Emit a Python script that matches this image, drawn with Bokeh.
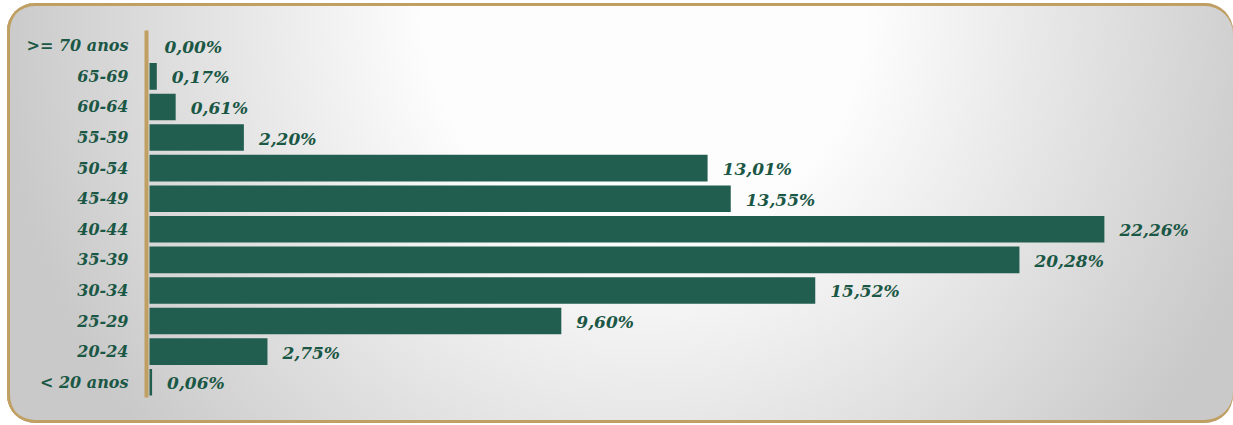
from bokeh.plotting import figure
from bokeh.models import ColumnDataSource, FactorRange, Range1d
from bokeh.core.properties import value
from bokeh.embed import file_html
from bokeh.resources import INLINE

# ---- data ----
categories = ["< 20 anos", "20-24", "25-29", "30-34", "35-39", "40-44",
              "45-49", "50-54", "55-59", "60-64", "65-69", ">= 70 anos"]
values = [0.06, 2.75, 9.60, 15.52, 20.28, 22.26, 13.55, 13.01, 2.20, 0.61, 0.17, 0.00]
labels = ["0,06%", "2,75%", "9,60%", "15,52%", "20,28%", "22,26%",
          "13,55%", "13,01%", "2,20%", "0,61%", "0,17%", "0,00%"]

W, H = 1226, 420
GREEN = "#215e4f"
TEXT = "#1b5745"
GOLD = "#c0a062"
FONT = "DejaVu Serif"

p = figure(width=W, height=H, output_backend="svg", toolbar_location=None,
           y_range=FactorRange(factors=categories, range_padding=0),
           x_range=Range1d(-0.07, 25.27),
           min_border_left=139, min_border_right=0, min_border_top=27,
           min_border_bottom=26, x_axis_location=None)

p.background_fill_alpha = 0
p.border_fill_alpha = 0
p.outline_line_color = None
p.grid.visible = False

# rounded panel with soft gray/white gradient and gold edge (CSS on the figure element)
p.styles = {
    "margin-left": "7px",
    "margin-top": "3px",
    "border-radius": "28px",
    "background": "radial-gradient(650px 680px at 52% 0%, #fdfdfd 34%, #c9c9c9 100%)",
    "box-shadow": "inset 3px 0 0 0 %s, inset 0 3px 0 0 %s, inset 0 -3px 0 0 %s" % (GOLD, GOLD, GOLD),
}

# ---- bars ----
src = ColumnDataSource(dict(cat=categories, val=values, lab=labels))
p.hbar(y="cat", right="val", left=0, height=0.87, source=src,
       fill_color=GREEN, line_color=None)

p.text(x="val", y="cat", text="lab", source=src, x_offset=15, y_offset=1,
       text_font=value(FONT), text_baseline="middle",
       text_align="left", text_color=TEXT, text_font_size="17px",
       text_font_style="bold italic")

# ---- axis ----
ax = p.yaxis[0]
ax.axis_line_color = GOLD
ax.axis_line_width = 4
ax.major_tick_line_color = None
ax.minor_tick_line_color = None
ax.major_tick_out = 0
ax.major_tick_in = 0
ax.major_label_standoff = 18
ax.major_label_text_font = FONT
ax.major_label_text_font_style = "bold italic"
ax.major_label_text_font_size = "16px"
ax.major_label_text_color = TEXT

open("out.html", "w").write(file_html(p, INLINE))
